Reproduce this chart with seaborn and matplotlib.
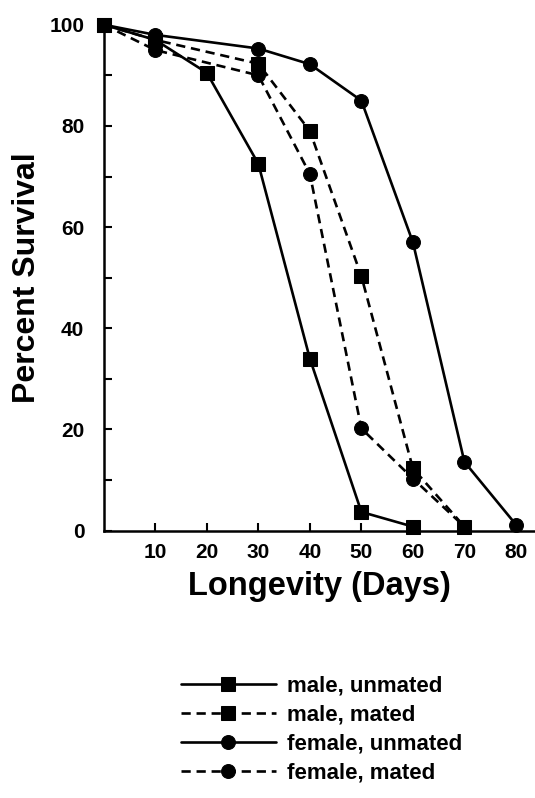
import matplotlib
matplotlib.use("Agg")
import matplotlib.pyplot as plt
import pandas as pd
import seaborn as sns

# survival curves (percent alive vs day)
days_male_unmated = [0, 10, 20, 30, 40, 50, 60]
male_unmated = [100, 97, 90.5, 72.5, 34, 3.7, 0.8]

days_male_mated = [0, 10, 30, 40, 50, 60, 70]
male_mated = [100, 97, 92.3, 79, 50.3, 12.3, 0.8]

days_female_unmated = [0, 10, 30, 40, 50, 60, 70, 80]
female_unmated = [100, 98, 95.3, 92.2, 85, 57, 13.6, 1.2]

days_female_mated = [0, 10, 30, 40, 50, 60, 70]
female_mated = [100, 95, 90, 70.5, 20.2, 10.3, 0.8]

series = [
    ("male, unmated", days_male_unmated, male_unmated, "s", "-"),
    ("male, mated", days_male_mated, male_mated, "s", (0, (3.5, 2.2))),
    ("female, unmated", days_female_unmated, female_unmated, "o", "-"),
    ("female, mated", days_female_mated, female_mated, "o", (0, (3.5, 2.2))),
]

sns.set_style("ticks")
plt.rcParams["font.family"] = ["Liberation Sans", "DejaVu Sans"]
plt.rcParams["font.weight"] = "bold"
plt.rcParams["text.color"] = "black"
plt.rcParams["axes.labelcolor"] = "black"

fig = plt.figure(figsize=(5.35, 7.98), dpi=100)
ax = fig.add_axes([0.194, 0.335, 0.806, 0.634])

for label, d, v, mk, ls in series:
    df = pd.DataFrame({"day": d, "survival": v})
    sns.lineplot(data=df, x="day", y="survival", ax=ax, color="black",
                 marker=mk, markersize=10, linewidth=1.9, linestyle=ls,
                 markeredgecolor="black", label=label, clip_on=False)

ax.set_xlim(0, 83.7)
ax.set_ylim(0, 100)
ax.set_xticks([10, 20, 30, 40, 50, 60, 70, 80])
ax.set_yticks([0, 20, 40, 60, 80, 100])
ax.set_yticks(range(10, 100, 20), minor=True)
ax.tick_params(axis="both", which="both", direction="in", width=1.5,
               labelsize=15, colors="black")
ax.tick_params(axis="x", length=6, pad=9)
ax.tick_params(axis="y", which="major", length=6, pad=14)
ax.tick_params(axis="y", which="minor", length=6)
for t in ax.get_xticklabels() + ax.get_yticklabels():
    t.set_fontweight("bold")

for s in ["top", "right"]:
    ax.spines[s].set_visible(False)
for s in ["left", "bottom"]:
    ax.spines[s].set_linewidth(1.8)
    ax.spines[s].set_color("black")

ax.set_xlabel("Longevity (Days)", fontsize=23.5, fontweight="bold", labelpad=6)
ax.set_ylabel("Percent Survival", fontsize=23, fontweight="bold", labelpad=5)

handles, labels = ax.get_legend_handles_labels()
ax.legend_.remove()
fig.legend(handles, labels, loc="upper left", bbox_to_anchor=(0.30, 0.178),
           frameon=False, handlelength=4.3, handletextpad=0.5,
           labelspacing=0.36, prop={"weight": "bold", "size": 16})

fig.savefig("out.png", dpi=100)
